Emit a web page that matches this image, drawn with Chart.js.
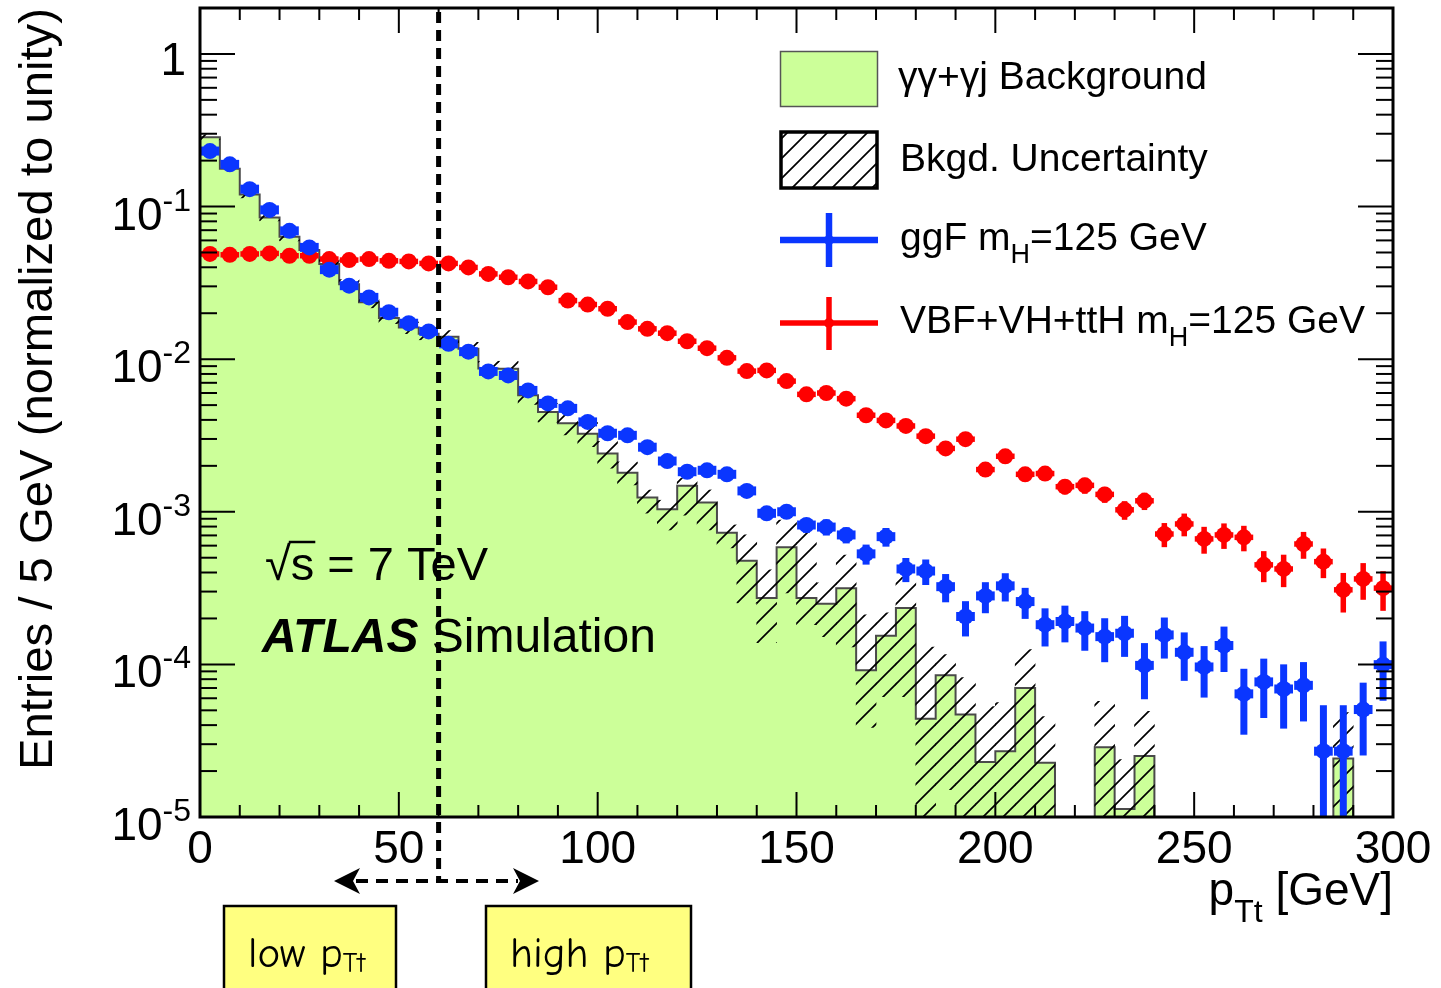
<!DOCTYPE html>
<html>
<head>
<meta charset="utf-8">
<script src="https://cdn.jsdelivr.net/npm/chart.js@4.4.1/dist/chart.umd.min.js"></script>
<style>
  html, body { margin: 0; padding: 0; background: #ffffff; }
  #wrap { width: 1441px; height: 988px; position: relative; }
</style>
</head>
<body>
<div id="wrap"><canvas id="c" width="1441" height="988"></canvas></div>
<script>
// ---- binning: 60 bins of 5 GeV in p_Tt ----
const BIN_W = 5;
const N_BINS = 60;
const binCenters = Array.from({ length: N_BINS }, (_, i) => BIN_W * i + BIN_W / 2);
const binLowEdges = Array.from({ length: N_BINS + 1 }, (_, i) => BIN_W * i);

// ---- axis tick labels ----
const xTickLabels = ['0', '50', '100', '150', '200', '250', '300'];
const yTickExponents = [0, -1, -2, -3, -4, -5];

// ---- gamma-gamma + gamma-jet background (normalised) ----
const bkg = [
  0.285, 0.177, 0.12, 0.0848, 0.0634, 0.052, 0.042, 0.031, 0.0236, 0.0186,
  0.0161, 0.0147, 0.014, 0.0117, 0.0087, 0.00865, 0.0058, 0.0045, 0.0038, 0.00325,
  0.00241, 0.0018, 0.00124, 0.00104, 0.00148, 0.00115, 0.00073, 0.000478, 0.000272, 0.000585,
  0.000272, 0.00025, 0.000316, 0.0000914, 0.000154, 0.000234, 0.000044, 0.0000848, 0.0000469, 0.0000229,
  0.000027, 0.00007, 0.0000227, 0, 0, 0.0000286, 0.0000113, 0.0000251, 0, 0,
  0, 0, 0, 0, 0, 0, 0, 0.0000242, 0, 0
];

// ---- background uncertainty band (upper / lower edge per bin) ----
const bandHi = [
  0.296, 0.184, 0.126, 0.089, 0.0672, 0.0551, 0.0449, 0.0332, 0.0255, 0.0201,
  0.0175, 0.016, 0.0154, 0.0129, 0.00966, 0.00969, 0.00655, 0.00513, 0.00441, 0.00384,
  0.00289, 0.00212, 0.00139, 0.00119, 0.00166, 0.00139, 0.00082, 0.000705, 0.000416, 0.000883,
  0.00076, 0.000342, 0.000521, 0.000211, 0.000218, 0.000374, 0.00013, 0.000116, 0.0000818, 0.0000529,
  0.0000562, 0.000125, 0.0000455, 0, 0, 0.0000573, 0.0000238, 0.0000493, 0, 0,
  0, 0, 0, 0, 0, 0, 0, 0.0000483, 0, 0
];
const bandLo = [
  0.274, 0.17, 0.114, 0.0806, 0.0596, 0.0489, 0.0391, 0.0288, 0.0217, 0.0171,
  0.0147, 0.0134, 0.0126, 0.0105, 0.00774, 0.00761, 0.00505, 0.00387, 0.00319, 0.00267,
  0.00193, 0.0015, 0.00098, 0.00076, 0.00095, 0.00076, 0.00058, 0.000253, 0.000139, 0.000294,
  0.000182, 0.000152, 0.00013, 0.0000386, 0.0000615, 0.0000615, 0, 0.0000151, 0, 0,
  0, 0, 0, 0, 0, 0, 0, 0, 0, 0,
  0, 0, 0, 0, 0, 0, 0, 0, 0, 0
];

// ---- ggF signal, m_H = 125 GeV ----
const ggf = [
  0.231, 0.189, 0.130, 0.0951, 0.0693, 0.0540, 0.0386, 0.0303, 0.0254, 0.0203,
  0.0172, 0.0152, 0.0126, 0.0112, 0.00831, 0.00782, 0.00624, 0.00513, 0.00476, 0.00388,
  0.00327, 0.00317, 0.00265, 0.00215, 0.00183, 0.00187, 0.00176, 0.00137, 0.000977, 0.00100,
  0.000819, 0.000794, 0.000705, 0.000530, 0.000687, 0.000422, 0.000409, 0.000323, 0.000206, 0.000281,
  0.000327, 0.000258, 0.000182, 0.000191, 0.000173, 0.000152, 0.000160, 0.0000985, 0.000156, 0.000120,
  0.0000962, 0.000133, 0.0000641, 0.0000768, 0.0000690, 0.0000729, 0.0000270, 0.0000270, 0.0000506, 0.0000996
];
const ggfRelErr = [
  0.02, 0.02, 0.02, 0.02, 0.02, 0.02, 0.03, 0.03, 0.03, 0.03,
  0.03, 0.04, 0.04, 0.04, 0.04, 0.04, 0.05, 0.05, 0.05, 0.05,
  0.05, 0.06, 0.06, 0.06, 0.06, 0.08, 0.08, 0.08, 0.08, 0.10,
  0.11, 0.12, 0.12, 0.15, 0.14, 0.18, 0.19, 0.21, 0.26, 0.23,
  0.21, 0.23, 0.28, 0.27, 0.29, 0.32, 0.30, 0.40, 0.30, 0.35,
  0.37, 0.33, 0.46, 0.42, 0.45, 0.42, 1.0, 1.0, 0.50, 0.42
];

// ---- VBF + VH + ttH signal, m_H = 125 GeV ----
const vbf = [
  0.0489, 0.0483, 0.0489, 0.0493, 0.0476, 0.0476, 0.0453, 0.0446, 0.0453, 0.0441,
  0.0437, 0.0424, 0.0424, 0.0399, 0.0362, 0.0344, 0.0323, 0.0296, 0.0242, 0.0228,
  0.0214, 0.0175, 0.0158, 0.0148, 0.0131, 0.0118, 0.0102, 0.00835, 0.00844, 0.00718,
  0.00588, 0.00600, 0.00551, 0.00429, 0.00397, 0.00365, 0.00313, 0.00260, 0.00299, 0.00189,
  0.00231, 0.00176, 0.00178, 0.00146, 0.00149, 0.00130, 0.00103, 0.00118, 0.000715, 0.000832,
  0.000664, 0.000705, 0.000680, 0.000449, 0.000422, 0.000615, 0.000471, 0.000308, 0.000363, 0.000316
];
const vbfRelErr = [
  0.02, 0.02, 0.02, 0.02, 0.02, 0.02, 0.02, 0.02, 0.02, 0.02,
  0.02, 0.02, 0.02, 0.02, 0.03, 0.03, 0.03, 0.03, 0.03, 0.03,
  0.03, 0.04, 0.04, 0.04, 0.05, 0.05, 0.05, 0.05, 0.05, 0.06,
  0.06, 0.06, 0.07, 0.07, 0.07, 0.08, 0.08, 0.09, 0.09, 0.10,
  0.10, 0.10, 0.10, 0.11, 0.12, 0.12, 0.14, 0.13, 0.18, 0.17,
  0.20, 0.19, 0.19, 0.23, 0.24, 0.20, 0.22, 0.29, 0.27, 0.29
];

// p_Tt cut separating the two categories
const PTT_CUT = 60;

// ---- styling ----
const GREEN = '#ccff99';
const BLUE = '#0a36ff';
const RED = '#ff0000';
const SANS = '"Liberation Sans", Arial, Helvetica, sans-serif';
const Y_MIN = 1e-5, Y_MAX = 2;
// empty bins are placed far below the axis so that steps drop out of view
const FLOOR = 1e-9;
const pos = v => (v > 0 ? v : FLOOR);

const canvas = document.getElementById('c');
const ctx2d = canvas.getContext('2d');

// diagonal hatching used for the uncertainty band
function makeHatch() {
  const s = 20;
  const t = document.createElement('canvas');
  t.width = s; t.height = s;
  const g = t.getContext('2d');
  g.strokeStyle = '#000';
  g.lineWidth = 1.7;
  g.beginPath();
  g.moveTo(0, s); g.lineTo(s, 0);
  g.moveTo(-s / 2, s / 2); g.lineTo(s / 2, -s / 2);
  g.moveTo(s / 2, s * 1.5); g.lineTo(s * 1.5, s / 2);
  g.stroke();
  return ctx2d.createPattern(t, 'repeat');
}
const HATCH = makeHatch();

// histogram outline: one point per lower bin edge plus the closing edge
const bkgSteps = binLowEdges.map((e, i) => ({ x: e, y: pos(bkg[Math.min(i, N_BINS - 1)]) }));
const bandBars = binCenters.map((c, i) => ({ x: c, y: [pos(bandLo[i]), pos(bandHi[i])] }));
const ggfPts = binCenters.map((c, i) => ({ x: c, y: ggf[i] }));
const vbfPts = binCenters.map((c, i) => ({ x: c, y: vbf[i] }));

// ---------- helpers ----------
function drawRuns(ctx, runs, x, baseline, align) {
  let total = 0;
  runs.forEach(r => {
    ctx.font = r.font;
    r.w = ctx.measureText(r.t).width;
    total += r.w;
  });
  let cx = align === 'right' ? x - total : (align === 'center' ? x - total / 2 : x);
  ctx.textAlign = 'left';
  ctx.textBaseline = 'alphabetic';
  runs.forEach(r => {
    ctx.font = r.font;
    ctx.fillText(r.t, cx, baseline + (r.dy || 0));
    cx += r.w;
  });
  return total;
}
function line(ctx, x1, y1, x2, y2) {
  ctx.beginPath(); ctx.moveTo(x1, y1); ctx.lineTo(x2, y2); ctx.stroke();
}

// ---------- error bars drawn under each marker set ----------
const errorBars = {
  id: 'errorBars',
  beforeDatasetDraw(chart, args) {
    const ds = chart.data.datasets[args.index];
    if (!ds.relErr) return;
    const { ctx, chartArea: a, scales: { x, y } } = chart;
    ctx.save();
    ctx.beginPath();
    ctx.rect(a.left, a.top, a.right - a.left, a.bottom - a.top);
    ctx.clip();
    ctx.strokeStyle = ds.pointBackgroundColor;
    ctx.lineCap = 'butt';
    ds.data.forEach((p, i) => {
      const e = p.y * ds.relErr[i];
      const px = x.getPixelForValue(p.x);
      const py = y.getPixelForValue(p.y);
      const top = y.getPixelForValue(p.y + e);
      const lo = p.y - e;
      const bot = lo > 0 ? y.getPixelForValue(lo) : a.bottom + 10;
      ctx.lineWidth = ds.errWidthV;
      line(ctx, px, top, px, bot);
      ctx.lineWidth = ds.errWidthH;
      const xl = x.getPixelForValue(p.x - BIN_W / 2) + 0.6;
      const xr = x.getPixelForValue(p.x + BIN_W / 2) - 0.6;
      line(ctx, xl, py, xr, py);
    });
    ctx.restore();
  }
};

// ---------- frame, ticks, labels, legend and annotations ----------
const decorations = {
  id: 'decorations',
  afterDatasetsDraw(chart) {
    const { ctx, chartArea: a, scales: { x, y } } = chart;
    ctx.save();
    ctx.fillStyle = '#000';
    ctx.strokeStyle = '#000';

    // energy and experiment labels
    ctx.font = '47px ' + SANS;
    ctx.textAlign = 'left';
    ctx.textBaseline = 'alphabetic';
    const sqrtW = ctx.measureText('\u221A').width;
    const sW = ctx.measureText('s').width;
    ctx.fillText('\u221As = 7 TeV', 265, 580);
    ctx.lineWidth = 2.5;
    line(ctx, 265 + sqrtW - 2, 542, 265 + sqrtW + sW + 1, 542);

    drawRuns(ctx, [
      { t: 'ATLAS', font: 'italic bold 48px ' + SANS },
      { t: ' Simulation', font: '48px ' + SANS }
    ], 262, 652, 'left');

    // category boundary
    const xc = x.getPixelForValue(PTT_CUT);
    ctx.setLineDash([11, 7]);
    ctx.lineWidth = 5;
    line(ctx, xc, a.top + 4, xc, 881);
    // double arrow below the axis
    ctx.lineWidth = 4;
    ctx.setLineDash([12, 8]);
    line(ctx, 356, 881, 518, 881);
    ctx.setLineDash([]);
    ctx.beginPath();
    ctx.moveTo(334, 881); ctx.lineTo(360, 868); ctx.lineTo(353, 881); ctx.lineTo(360, 894); ctx.closePath();
    ctx.moveTo(539, 881); ctx.lineTo(513, 868); ctx.lineTo(520, 881); ctx.lineTo(513, 894); ctx.closePath();
    ctx.fill();

    // frame
    ctx.lineWidth = 3;
    ctx.strokeRect(a.left, a.top, a.right - a.left, a.bottom - a.top);

    // x ticks (all four sides mirrored)
    ctx.lineWidth = 2;
    for (let v = 0; v <= 300; v += 10) {
      const px = x.getPixelForValue(v);
      const len = v % 50 === 0 ? 25 : 12;
      line(ctx, px, a.bottom, px, a.bottom - len);
      line(ctx, px, a.top, px, a.top + len);
    }
    // y ticks: decades and 2..9 sub-ticks
    for (let e = -5; e <= 0; e++) {
      for (let k = 1; k <= 9; k++) {
        const v = k * Math.pow(10, e);
        if (v > Y_MAX + 1e-12) break;
        const py = y.getPixelForValue(v);
        const len = k === 1 ? 35 : 17;
        line(ctx, a.left, py, a.left + len, py);
        line(ctx, a.right, py, a.right - len, py);
      }
    }

    // x tick labels
    ctx.font = '46px ' + SANS;
    ctx.textAlign = 'center';
    ctx.textBaseline = 'alphabetic';
    xTickLabels.forEach(lbl => {
      ctx.fillText(lbl, x.getPixelForValue(Number(lbl)), 863);
    });

    // y tick labels with exponents
    yTickExponents.forEach(e => {
      const py = y.getPixelForValue(Math.pow(10, e));
      if (e === 0) {
        ctx.font = '46px ' + SANS;
        ctx.textAlign = 'right';
        ctx.fillText('1', 186, py + 21);
      } else {
        ctx.font = '32px ' + SANS;
        const sup = String(e);
        const supW = ctx.measureText(sup).width;
        ctx.textAlign = 'right';
        ctx.fillText(sup, 191, py + 4);
        ctx.font = '46px ' + SANS;
        ctx.fillText('10', 191 - supW, py + 23);
      }
    });

    // axis titles
    drawRuns(ctx, [
      { t: 'p', font: '46px ' + SANS },
      { t: 'Tt', font: '32px ' + SANS, dy: 17 },
      { t: ' [GeV]', font: '46px ' + SANS }
    ], a.right, 905, 'right');

    ctx.save();
    ctx.font = '46px ' + SANS;
    const yTitle = 'Entries / 5 GeV (normalized to unity)';
    const tw = ctx.measureText(yTitle).width;
    ctx.translate(52, 389);
    ctx.rotate(-Math.PI / 2);
    ctx.scale(762 / tw, 1);
    ctx.textAlign = 'center';
    ctx.fillText(yTitle, 0, 0);
    ctx.restore();

    // legend
    ctx.fillStyle = GREEN;
    ctx.fillRect(780, 51, 98, 56);
    ctx.strokeStyle = '#555';
    ctx.lineWidth = 1.5;
    ctx.strokeRect(780.5, 51.5, 97, 55);

    ctx.fillStyle = HATCH;
    ctx.fillRect(780, 132, 98, 57);
    ctx.strokeStyle = '#000';
    ctx.lineWidth = 3.5;
    ctx.strokeRect(781, 132, 96, 56);

    [[BLUE, 240, 213, 267, 6.5], [RED, 323, 297, 350, 5.5]].forEach(([col, cy, y1, y2, w]) => {
      ctx.strokeStyle = col;
      ctx.fillStyle = col;
      ctx.lineWidth = w;
      line(ctx, 780, cy, 878, cy);
      line(ctx, 829, y1, 829, y2);
      ctx.beginPath(); ctx.arc(829, cy, 5, 0, Math.PI * 2); ctx.fill();
    });

    ctx.fillStyle = '#000';
    const LF = '39px ' + SANS, LS = '27px ' + SANS;
    drawRuns(ctx, [{ t: '\u03B3\u03B3+\u03B3j Background', font: LF }], 898, 89, 'left');
    drawRuns(ctx, [{ t: 'Bkgd. Uncertainty', font: LF }], 900, 171, 'left');
    drawRuns(ctx, [{ t: 'ggF m', font: LF }, { t: 'H', font: LS, dy: 13 }, { t: '=125 GeV', font: LF }], 900, 250, 'left');
    drawRuns(ctx, [{ t: 'VBF+VH+ttH m', font: LF }, { t: 'H', font: LS, dy: 13 }, { t: '=125 GeV', font: LF }], 900, 333, 'left');

    // category boxes under the axis
    const HAND = '"Comic Sans MS", "Comic Neue", Lato, "DejaVu Sans", sans-serif';
    [[224, 172, 'low p', 248], [486, 205, 'high p', 510]].forEach(([bx, bw, label, tx]) => {
      ctx.fillStyle = '#ffff80';
      ctx.fillRect(bx, 906, bw, 90);
      ctx.strokeStyle = '#000';
      ctx.lineWidth = 2.5;
      ctx.strokeRect(bx, 906, bw, 90);
      ctx.fillStyle = '#000';
      drawRuns(ctx, [{ t: label, font: '43px ' + HAND }, { t: 'Tt', font: '28px ' + HAND, dy: 5 }], tx, 967, 'left');
    });

    ctx.restore();
  }
};

Chart.defaults.font.family = SANS;

new Chart(canvas, {
  type: 'scatter',
  data: {
    datasets: [
      {
        label: 'ggF mH=125 GeV',
        type: 'scatter',
        data: ggfPts,
        pointStyle: 'circle',
        pointRadius: 8,
        pointBorderWidth: 0,
        pointBackgroundColor: BLUE,
        borderColor: BLUE,
        relErr: ggfRelErr,
        errWidthV: 7,
        errWidthH: 9,
        order: 0
      },
      {
        label: 'VBF+VH+ttH mH=125 GeV',
        type: 'scatter',
        data: vbfPts,
        pointStyle: 'circle',
        pointRadius: 8,
        pointBorderWidth: 0,
        pointBackgroundColor: RED,
        borderColor: RED,
        relErr: vbfRelErr,
        errWidthV: 5.5,
        errWidthH: 5.5,
        order: 1
      },
      {
        label: 'Bkgd. Uncertainty',
        type: 'bar',
        data: bandBars,
        backgroundColor: HATCH,
        borderWidth: 0,
        barPercentage: 1,
        categoryPercentage: 1,
        grouped: false,
        order: 2
      },
      {
        label: '\u03B3\u03B3+\u03B3j Background',
        type: 'line',
        data: bkgSteps,
        stepped: 'before',
        fill: 'start',
        backgroundColor: GREEN,
        borderColor: '#4a4a4a',
        borderWidth: 2,
        pointRadius: 0,
        tension: 0,
        order: 3
      }
    ]
  },
  options: {
    responsive: false,
    animation: false,
    devicePixelRatio: 1,
    events: [],
    layout: { padding: { left: 200, top: 6, right: 48, bottom: 171 } },
    plugins: { legend: { display: false }, tooltip: { enabled: false } },
    scales: {
      x: { type: 'linear', min: 0, max: 300, offset: false, display: false },
      y: { type: 'logarithmic', min: Y_MIN, max: Y_MAX, display: false }
    }
  },
  plugins: [errorBars, decorations]
});
</script>
</body>
</html>
